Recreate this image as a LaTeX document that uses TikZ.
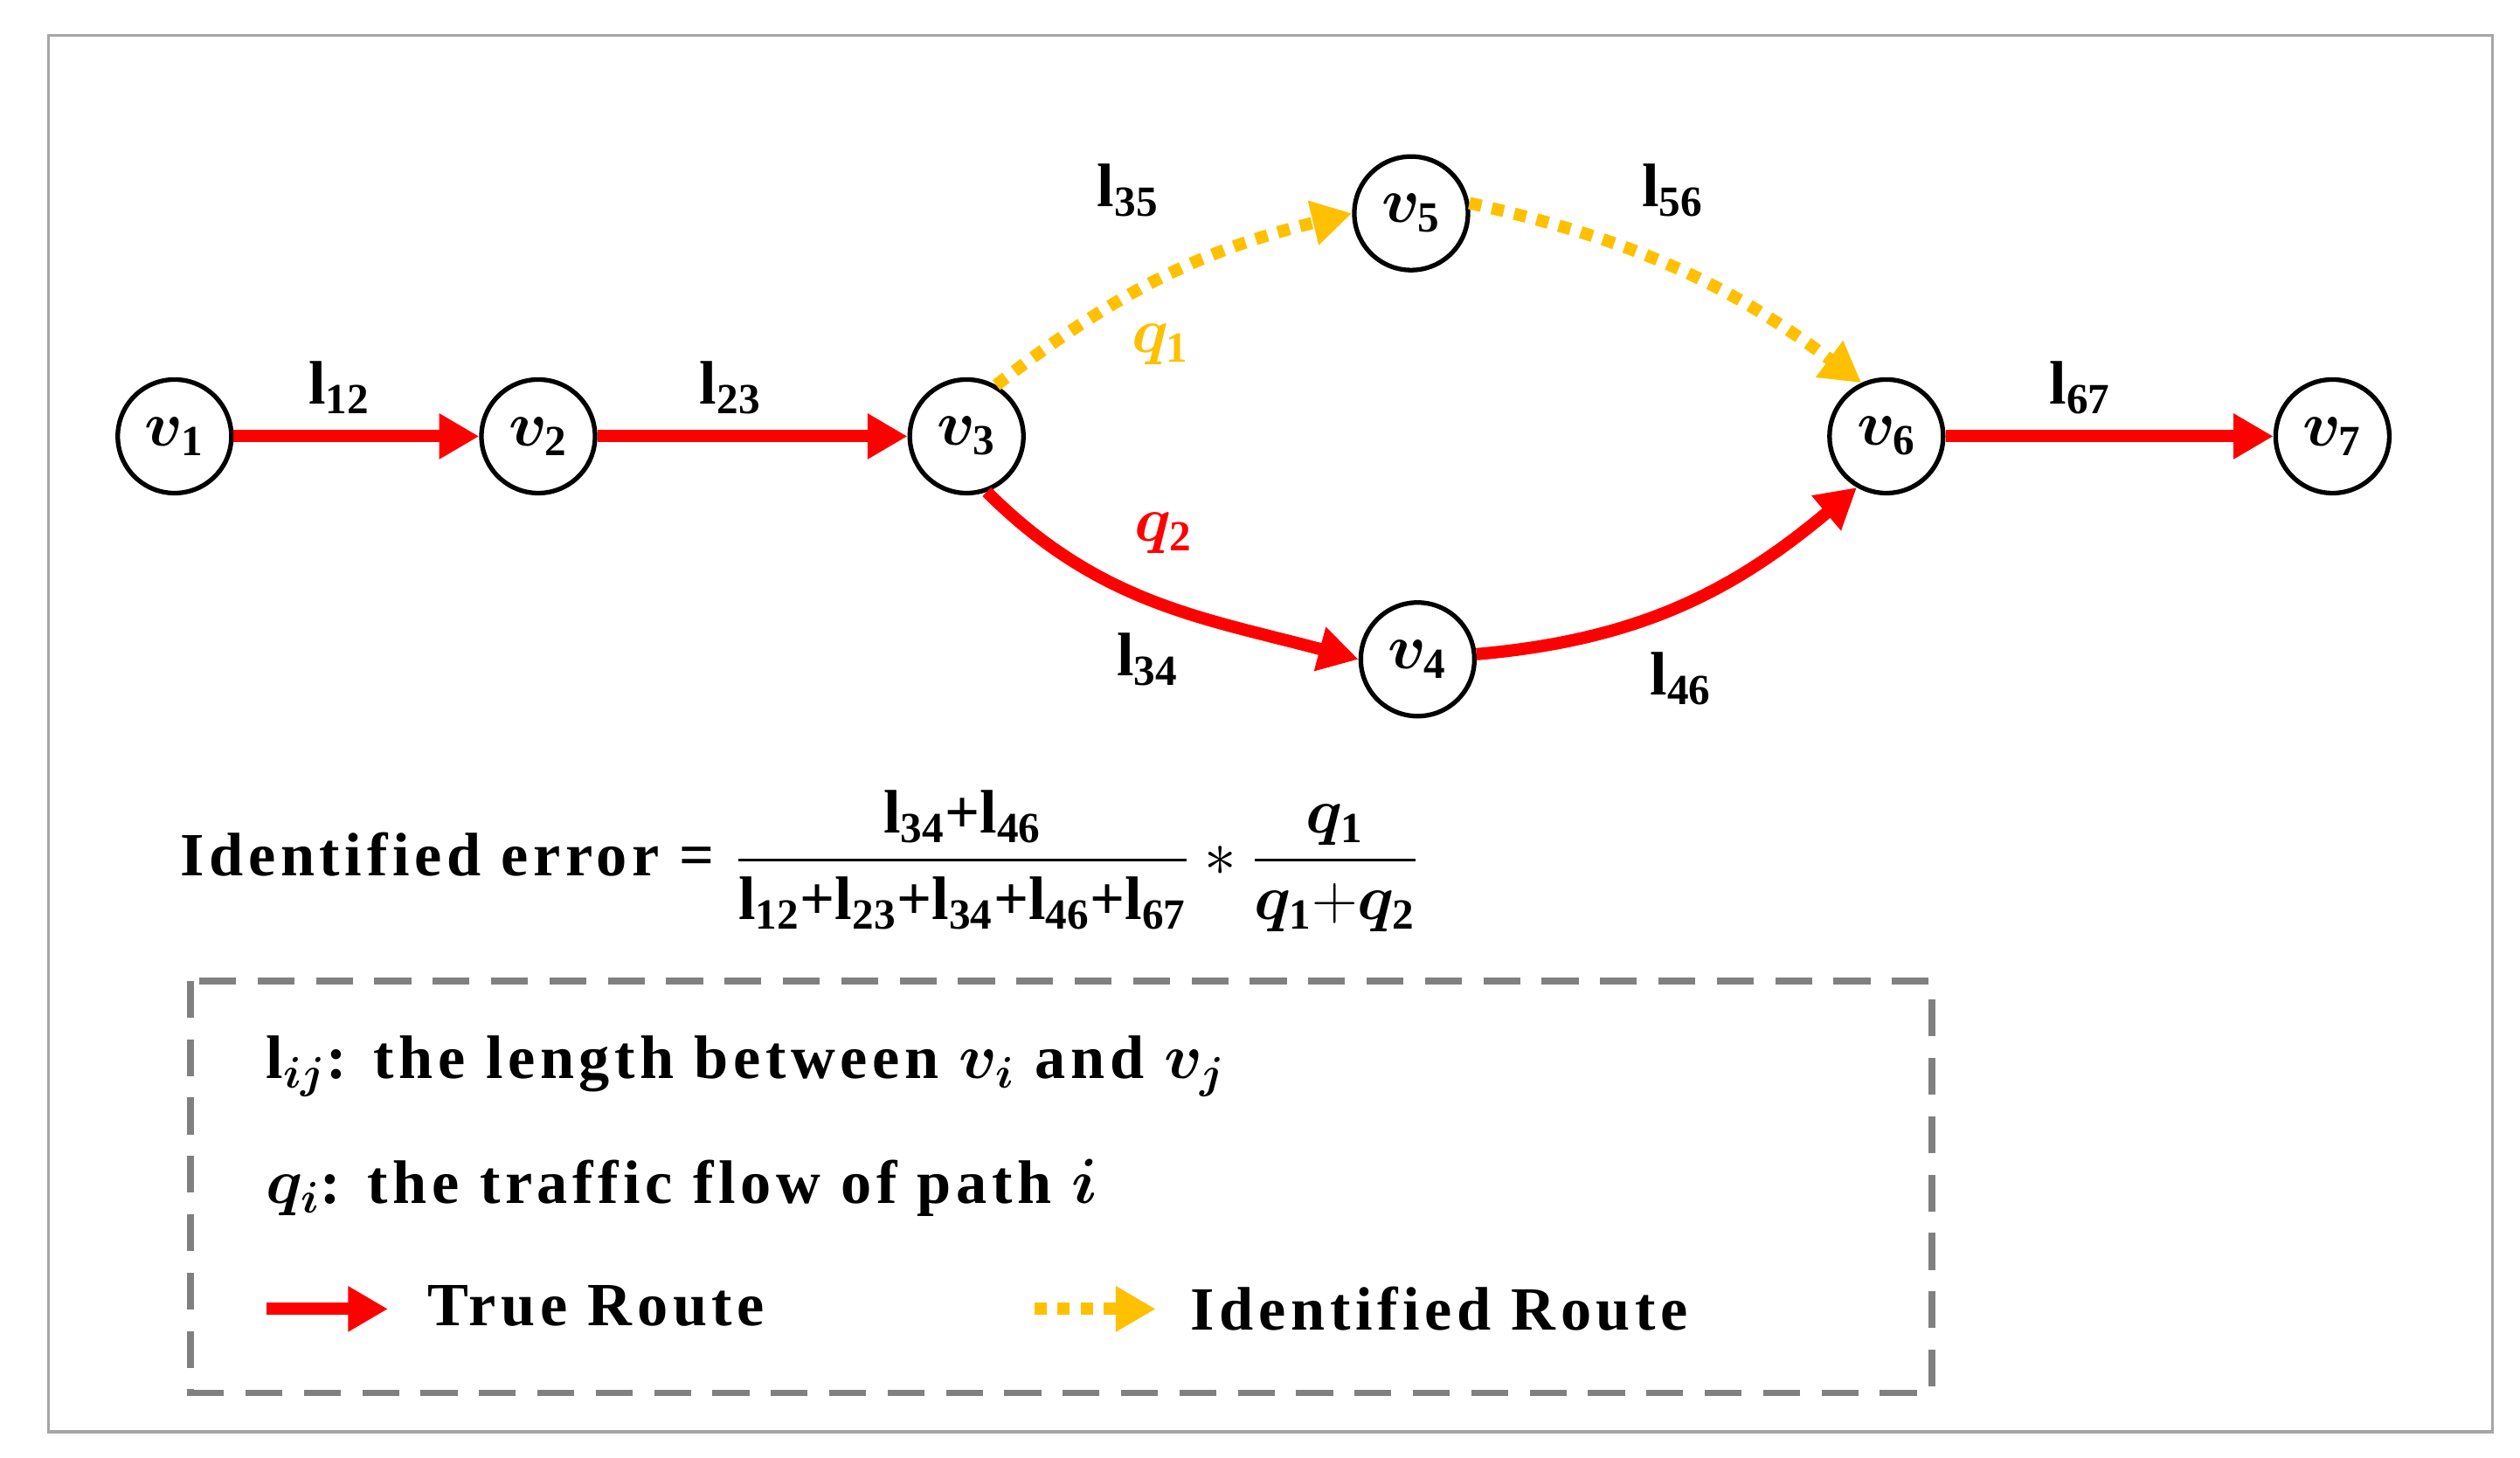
\documentclass[tikz,border=0pt]{standalone}
\usepackage{fontspec}
\usepackage{amsmath,bm}
\setmainfont{Liberation Serif}
\usetikzlibrary{arrows.meta}
\definecolor{gold}{RGB}{255,192,0}
\definecolor{rred}{RGB}{255,0,0}
\begin{document}
\begin{tikzpicture}[x=0.0185cm,y=-0.0185cm,
  nd/.style={circle,draw,line width=1.5pt,minimum size=1.3cm,inner sep=0pt,font=\fontsize{20}{24}\selectfont},
  tr/.style={draw=rred,line width=4pt,-{Triangle[length=13pt,width=14pt]}},
  idr/.style={draw=gold,line width=4pt,dash pattern=on 4pt off 3.5pt,-{Triangle[length=13pt,width=14pt]}},
  lb/.style={font=\fontsize{20}{24}\selectfont\bfseries},
  txt/.style={font=\fontsize{20}{24}\selectfont\bfseries\addfontfeature{LetterSpace=8}}]
\useasboundingbox (0,0) rectangle (1559,902);
\draw[gray!70,line width=1pt] (30,22) rectangle (1542,886);
\node[nd] (v1) at (108,270) {$\bm{v}_{\mathbf 1}$};
\node[nd] (v2) at (333,270) {$\bm{v}_{\mathbf 2}$};
\node[nd] (v3) at (598,270) {$\bm{v}_{\mathbf 3}$};
\node[nd] (v5) at (873,132) {$\bm{v}_{\mathbf 5}$};
\node[nd] (v6) at (1167,270) {$\bm{v}_{\mathbf 6}$};
\node[nd] (v7) at (1443,270) {$\bm{v}_{\mathbf 7}$};
\node[nd] (v4) at (877,408) {$\bm{v}_{\mathbf 4}$};
\draw[tr] (v1) -- (v2);
\draw[tr] (v2) -- (v3);
\draw[tr] (v6) -- (v7);
\draw[idr] (v3.60) to[bend left=12] (v5.180);
\draw[idr] (v5.10) to[bend left=12] (v6.115);
\draw[tr] (v3.-70) to[out=-45,in=165] (v4.180);
\draw[tr] (v4.5) to[out=5,in=-140] (v6.-120);
\node[lb] (l12) at (210,240) {l$_{\mathbf{12}}$};
\node[lb] (l23) at (452,240) {l$_{\mathbf{23}}$};
\node[lb] (l35) at (698,118) {l$_{\mathbf{35}}$};
\node[lb] (l56) at (1035,118) {l$_{\mathbf{56}}$};
\node[lb] (l34) at (710,408) {l$_{\mathbf{34}}$};
\node[lb] (l46) at (1040,420) {l$_{\mathbf{46}}$};
\node[lb] (l67) at (1287,240) {l$_{\mathbf{67}}$};
\node[lb,text=gold] (q1) at (718,213) {$\bm{q}_{\mathbf 1}$};
\node[lb,text=rred] (q2) at (720,330) {$\bm{q}_{\mathbf 2}$};
\node[txt,anchor=west] (f) at (105,533) {Identified error = {\addfontfeature{LetterSpace=0}$\dfrac{\text{l}_{\mathbf{34}}\text{+}\text{l}_{\mathbf{46}}}{\text{l}_{\mathbf{12}}\text{+}\text{l}_{\mathbf{23}}\text{+}\text{l}_{\mathbf{34}}\text{+}\text{l}_{\mathbf{46}}\text{+}\text{l}_{\mathbf{67}}}*\dfrac{\bm{q}_{\mathbf 1}}{\bm{q}_{\mathbf 1}{+}\bm{q}_{\mathbf 2}}$}};
\draw[gray,line width=2.2pt,dash pattern=on 12pt off 7pt] (118,607) rectangle (1195,862);
\node[txt,anchor=west] (t1) at (158,660) {l$_{\bm{ij}}$: the length between $\bm{v}_{\bm i}$ and $\bm{v}_{\bm j}$};
\node[txt,anchor=west] (t2) at (158,735) {$\bm{q}_{\bm i}$: the traffic flow of path $\bm i$};
\coordinate (a1) at (165,810); \coordinate (a2) at (240,810);
\coordinate (b1) at (640,810); \coordinate (b2) at (715,810);
\draw[tr] (a1) -- (a2);
\draw[idr] (b1) -- (b2);
\node[txt,anchor=west] (t3) at (258,808) {True Route};
\node[txt,anchor=west] (t4) at (730,810) {Identified Route};
\end{tikzpicture}
\end{document}
